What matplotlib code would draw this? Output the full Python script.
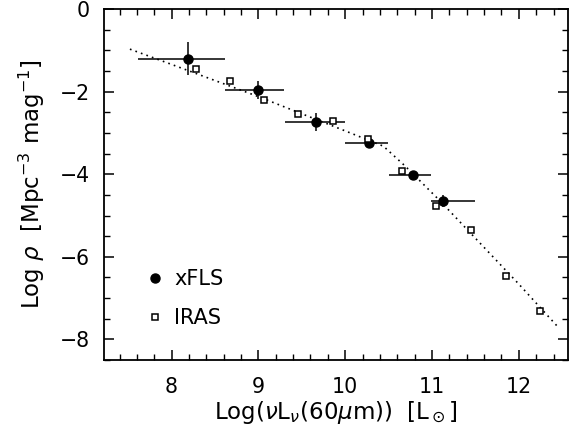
import matplotlib
matplotlib.use('Agg')
import matplotlib.pyplot as plt
from matplotlib.lines import Line2D

plt.rcParams['font.family'] = ['DejaVu Sans']
plt.rcParams['mathtext.fontset'] = 'dejavusans'

# xFLS luminosity function (filled circles with error bars)
xfls_x = [8.19, 9.00, 9.66, 10.27, 10.78, 11.13]
xfls_y = [-1.20, -1.95, -2.73, -3.24, -4.03, -4.65]
xfls_xlo = [7.61, 8.61, 9.31, 10.00, 10.50, 10.99]
xfls_xhi = [8.61, 9.30, 10.00, 10.49, 10.99, 11.49]
xfls_yerr = [0.40, 0.22, 0.22, 0.08, 0.10, 0.14]

# IRAS luminosity function (open squares)
iras_x = [8.28, 8.67, 9.06, 9.46, 9.86, 10.26, 10.66, 11.05, 11.45, 11.85, 12.24]
iras_y = [-1.45, -1.75, -2.21, -2.55, -2.71, -3.15, -3.91, -4.78, -5.36, -6.47, -7.32]

# dotted fit curve
fit_x = [7.52, 8.0, 9.0, 10.0, 10.44, 10.69, 11.09, 12.0, 12.46]
fit_y = [-0.97, -1.34, -2.12, -2.95, -3.32, -3.80, -4.64, -6.66, -7.72]

fig = plt.figure(figsize=(5.74, 4.34), dpi=100)
ax = fig.add_axes([0.181, 0.1705, 0.809, 0.8085])

ax.plot(fit_x, fit_y, color='black', linestyle=(0, (1, 2.5)), linewidth=1.2)

xerr = [[x - lo for x, lo in zip(xfls_x, xfls_xlo)],
        [hi - x for x, hi in zip(xfls_x, xfls_xhi)]]
ax.errorbar(xfls_x, xfls_y, xerr=xerr, yerr=xfls_yerr, fmt='o', color='black',
            markersize=6.5, elinewidth=1.1, capsize=0, zorder=3)
ax.plot(iras_x, iras_y, 's', markerfacecolor='white', markeredgecolor='black',
        markersize=4.5, markeredgewidth=1.1, linestyle='none', zorder=4)

ax.set_xlim(7.22, 12.57)
ax.set_ylim(-8.5, 0)
ax.set_xticks([8, 9, 10, 11, 12])
ax.set_yticks([-8, -6, -4, -2, 0])
ax.set_yticklabels(['\u22128', '\u22126', '\u22124', '\u22122', '0'])
ax.xaxis.set_minor_locator(matplotlib.ticker.MultipleLocator(0.2))
ax.yaxis.set_minor_locator(matplotlib.ticker.MultipleLocator(0.5))
ax.tick_params(which='both', direction='in', top=True, right=True, labelsize=14.8)
ax.tick_params(which='major', length=7, width=1.1)
ax.tick_params(axis='x', which='major', pad=12)
ax.tick_params(axis='y', which='major', pad=10)
ax.tick_params(which='minor', length=4, width=1.0)
for s in ax.spines.values():
    s.set_linewidth(1.3)

ax.set_xlabel(r'Log($\nu$L$_\nu$(60$\mu$m))  [L$_\odot$]', fontsize=16.5, labelpad=2)
ax.set_ylabel(r'Log $\rho$  [Mpc$^{-3}$ mag$^{-1}$]', fontsize=16.5, labelpad=9)

handles = [Line2D([], [], marker='o', color='black', linestyle='none', markersize=6.5),
           Line2D([], [], marker='s', markerfacecolor='white', markeredgecolor='black',
                  linestyle='none', markersize=4.5, markeredgewidth=1.1)]
ax.legend(handles, ['xFLS', 'IRAS'], loc='lower left', bbox_to_anchor=(0.075, 0.067),
          frameon=False, fontsize=15, handlelength=0.8, handletextpad=0.5,
          labelspacing=0.9, borderaxespad=0)

fig.savefig('out.png', dpi=100)
